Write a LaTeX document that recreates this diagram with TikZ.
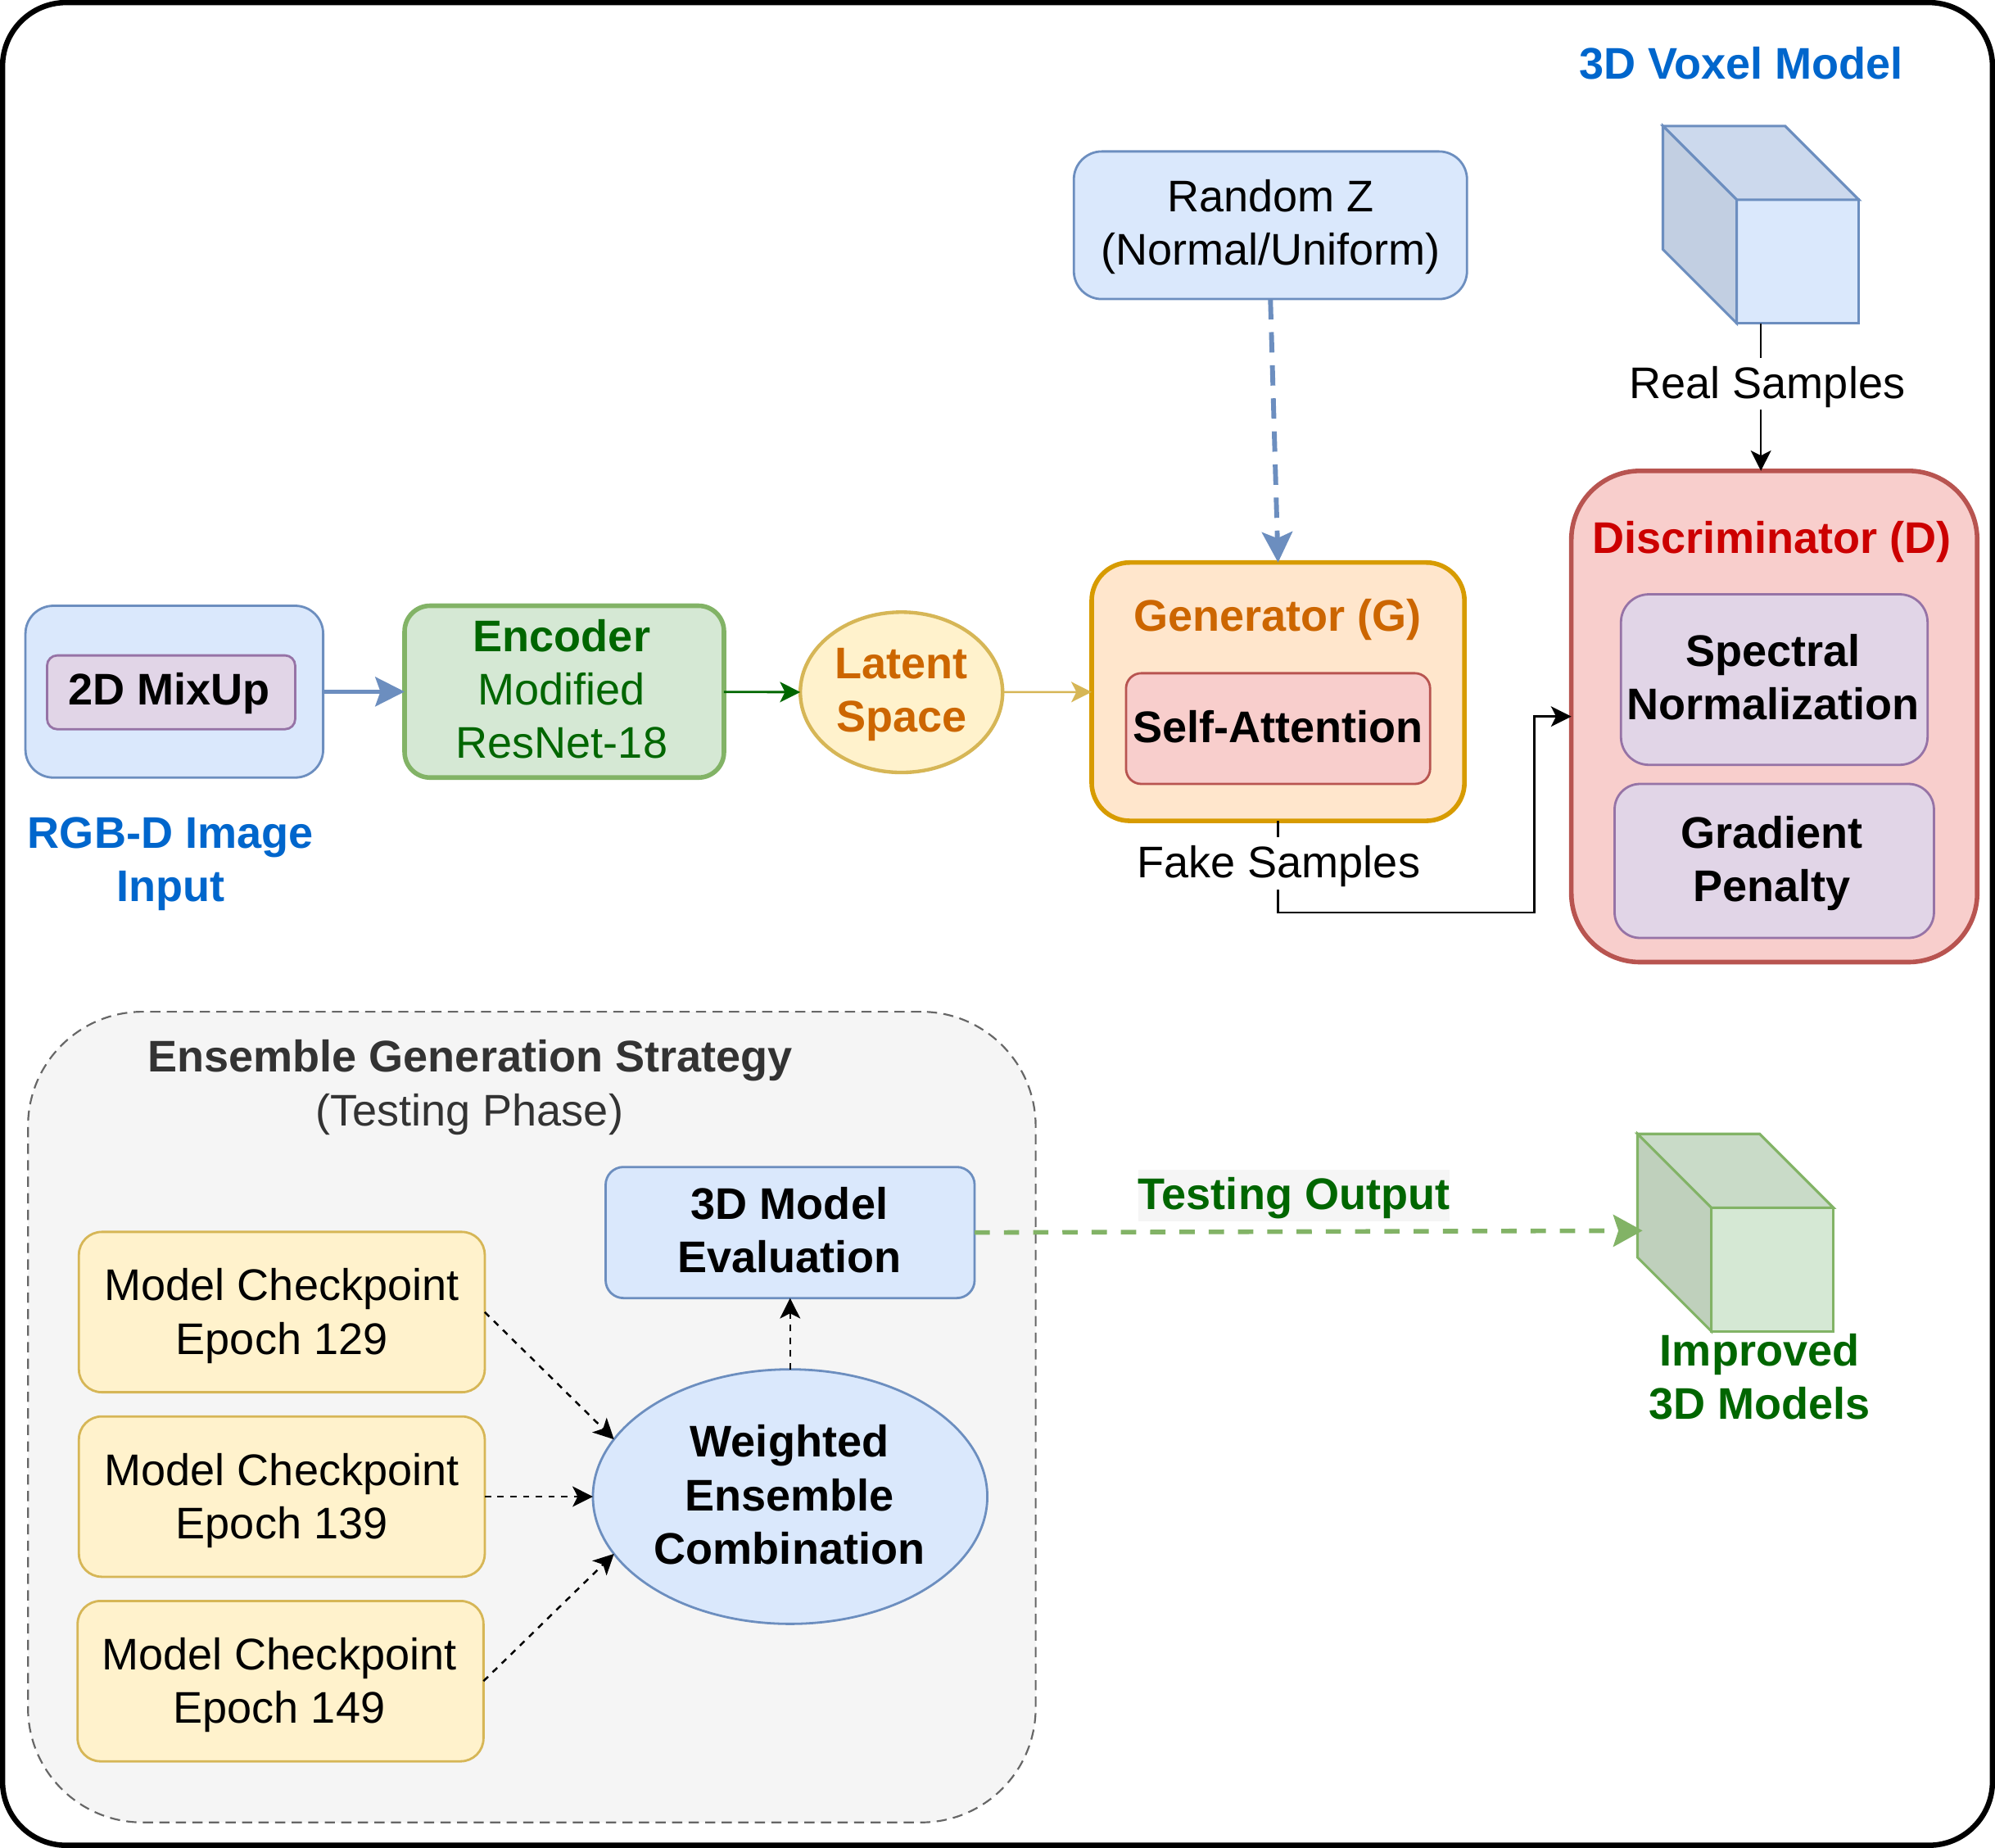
\documentclass[tikz,border=0pt]{standalone}
\usepackage{fontspec}
\setmainfont{Liberation Sans}
\usetikzlibrary{shapes.geometric,arrows.meta}
\definecolor{blueF}{HTML}{DAE8FC}\definecolor{blueS}{HTML}{6C8EBF}
\definecolor{greenF}{HTML}{D5E8D4}\definecolor{greenS}{HTML}{82B366}
\definecolor{yellF}{HTML}{FFF2CC}\definecolor{yellS}{HTML}{D6B656}
\definecolor{orF}{HTML}{FFE6CC}\definecolor{orS}{HTML}{D79B00}
\definecolor{redF}{HTML}{F8CECC}\definecolor{redS}{HTML}{B85450}
\definecolor{purF}{HTML}{E1D5E7}\definecolor{purS}{HTML}{9673A6}
\definecolor{greyF}{HTML}{F5F5F5}\definecolor{greyS}{HTML}{666666}
\definecolor{txtblue}{HTML}{0066CC}\definecolor{txtgreen}{HTML}{006600}
\definecolor{txtor}{HTML}{CC6600}\definecolor{txtred}{HTML}{CC0000}
\definecolor{txtgrey}{HTML}{333333}
\definecolor{cubeTopB}{HTML}{CCD9ED}\definecolor{cubeLeftB}{HTML}{C2CFE2}
\definecolor{cubeTopG}{HTML}{C9DBC8}\definecolor{cubeLeftG}{HTML}{BFD0BC}
\tikzset{
  every node/.style={font=\fontsize{17.4}{21}\selectfont, align=center, inner sep=0pt, outer sep=0pt},
  rbox/.style={rectangle, draw, line width=.9pt},
  blueBox/.style={rbox, fill=blueF, draw=blueS},
  purpleBox/.style={rbox, fill=purF, draw=purS},
  yellowBox/.style={rbox, fill=yellF, draw=yellS, rounded corners=9pt},
  label/.style={font=\fontsize{17.4}{21}\selectfont},
  boldlabel/.style={font=\fontsize{17.4}{21}\selectfont\bfseries},
  edgelabel/.style={label, fill=white, text height=16pt, text depth=4.5pt},
  conn/.style={line width=.8pt, -{Stealth[length=8pt,width=8pt,inset=2pt]}},
  dashconn/.style={conn, dash pattern=on 2.5pt off 2.5pt},
  cubeline/.style={line width=1pt, line join=miter},
}
\begin{document}
\begin{tikzpicture}[x=.5pt,y=-.5pt]
\useasboundingbox (0,0) rectangle (1568,1452);
\node[rectangle, draw=black, fill=white, line width=2.1pt, rounded corners=25pt, minimum width=782pt, minimum height=724pt] (outer) at (784,726) {};

% top row
\node[blueBox, rounded corners=11pt, minimum width=117pt, minimum height=67.5pt] (input) at (137,543.5) {};
\node[purpleBox, rounded corners=4pt, minimum width=97.5pt, minimum height=29pt] (mixup) at (134.5,544) {};
\node[boldlabel] (mixupT) at (133,545) {2D MixUp};
\node[boldlabel, text=txtblue] (rgbd) at (134,679) {RGB-D Image\\Input};
\node[rbox, fill=greenF, draw=greenS, line width=1.8pt, rounded corners=10pt, minimum width=125.5pt, minimum height=67.5pt] (enc) at (443.5,543.5) {};
\node[label, text=txtgreen] (encT) at (441.5,541.5) {\textbf{Encoder}\\Modified\\ResNet-18};
\node[ellipse, draw=yellS, fill=yellF, line width=1.4pt, minimum width=79.5pt, minimum height=63pt] (latent) at (708.5,544) {};
\node[boldlabel, text=txtor] (latentT) at (708.5,546) {Latent\\Space};
\node[rbox, fill=orF, draw=orS, line width=1.8pt, rounded corners=15pt, minimum width=146.5pt, minimum height=101.5pt] (gen) at (1004.5,543.5) {};
\node[boldlabel, text=txtor] (gentitle) at (1004,487) {Generator (G)};
\node[rbox, fill=redF, draw=redS, rounded corners=6pt, minimum width=119.5pt, minimum height=43.5pt] (selfatt) at (1004.5,572.5) {};
\node[boldlabel] (selfattT) at (1004.5,571) {Self-Attention};
\node[blueBox, rounded corners=11pt, minimum width=154.5pt, minimum height=58pt] (randz) at (998.5,177) {};
\node[label] (randzT) at (998.5,178.5) {Random Z\\(Normal/Uniform)};
\node[boldlabel, text=txtblue] (voxeltitle) at (1368.5,50) {3D Voxel Model};

% voxel cube
\node[rectangle, draw=blueS, fill=blueF, cubeline, minimum width=48pt, minimum height=48.5pt] (cubeA) at (1413,205.5) {};
\filldraw[cubeline, draw=blueS, fill=cubeTopB] (1307,99) -- (1403,99) -- (1461,157) -- (1365,157) -- cycle;
\filldraw[cubeline, draw=blueS, fill=cubeLeftB] (1307,99) -- (1365,157) -- (1365,254) -- (1307,196) -- cycle;

% discriminator
\node[rbox, fill=redF, draw=redS, line width=1.8pt, rounded corners=27pt, minimum width=159.5pt, minimum height=193pt] (disc) at (1394.5,563) {};
\node[boldlabel, text=txtred] (disctitle) at (1392.5,426) {Discriminator (D)};
\node[purpleBox, rounded corners=11pt, minimum width=120.5pt, minimum height=67pt] (spec) at (1394.5,534) {};
\node[boldlabel] (specT) at (1393.5,532) {Spectral\\Normalization};
\node[purpleBox, rounded corners=10pt, minimum width=125.5pt, minimum height=60.5pt] (grad) at (1394.5,676.5) {};
\node[boldlabel] (gradT) at (1392.5,678.5) {Gradient\\Penalty};

% ensemble group
\node[rectangle, draw=greyS, fill=greyF, line width=.7pt, dash pattern=on 4pt off 2.5pt, rounded corners=45pt, minimum width=396pt, minimum height=318.5pt] (group) at (418,1113.5) {};
\node[boldlabel, text=txtgrey] (grouptitle) at (369.5,833) {Ensemble Generation Strategy};
\node[label, text=txtgrey] (groupsub) at (369,876) {(Testing Phase)};
\node[blueBox, rounded corners=7pt, minimum width=145pt, minimum height=51.5pt] (eval) at (621,968.5) {};
\node[boldlabel] (evalT) at (620.5,966.5) {3D Model\\Evaluation};
\node[yellowBox, minimum width=159.5pt, minimum height=63pt] (ck1) at (221.5,1031) {};
\node[label] (ck1T) at (221.5,1034) {Model Checkpoint\\Epoch 129};
\node[yellowBox, minimum width=159.5pt, minimum height=63pt] (ck2) at (221.5,1176) {};
\node[label] (ck2T) at (221.5,1179) {Model Checkpoint\\Epoch 139};
\node[yellowBox, minimum width=159.5pt, minimum height=63pt] (ck3) at (220.5,1321) {};
\node[label] (ck3T) at (219.5,1324) {Model Checkpoint\\Epoch 149};
\node[ellipse, draw=blueS, fill=blueF, line width=.9pt, minimum width=155pt, minimum height=100pt] (ens) at (621,1176) {};
\node[boldlabel] (ensT) at (620.5,1174.5) {Weighted\\Ensemble\\Combination};

% improved cube
\node[rectangle, draw=greenS, fill=greenF, cubeline, minimum width=48pt, minimum height=48.5pt] (cubeB) at (1393,997.5) {};
\filldraw[cubeline, draw=greenS, fill=cubeTopG] (1287,891) -- (1383,891) -- (1441,949) -- (1345,949) -- cycle;
\filldraw[cubeline, draw=greenS, fill=cubeLeftG] (1287,891) -- (1345,949) -- (1345,1046) -- (1287,988) -- cycle;
\node[boldlabel, text=txtgreen] (improved) at (1383,1082) {Improved\\3D Models};

% connectors
\coordinate (cubeAout) at (1384,254);
\coordinate (discin) at (1384,370);
\coordinate (cubeBin) at (1291,967);
\coordinate (bendA) at (1004.5,717);
\coordinate (bendB) at (1206,717);
\coordinate (bendC) at (1206,563);
\draw[line width=1.7pt, draw=blueS, -{Stealth[length=11.5pt,width=11.5pt,inset=2pt]}] (input) -- (enc);
\draw[conn, draw=txtgreen, line width=.9pt] (enc) -- (latent);
\draw[conn, draw=yellS] (latent) -- (gen);
\draw[line width=1.9pt, draw=blueS, dash pattern=on 8pt off 5pt, -{Stealth[length=12pt,width=12pt,inset=2.5pt]}] (randz.south) -- (gen.north);
\draw[conn] (cubeAout) -- (discin);
\node[edgelabel] (real) at (1389,301.5) {Real Samples};
\draw[conn] (gen.south) -- (bendA) -- (bendB) -- (bendC) -- (disc.west);
\node[edgelabel] (fake) at (1005,678.5) {Fake Samples};
\draw[line width=1.8pt, draw=greenS, dash pattern=on 6pt off 5.5pt, -{Stealth[length=11.5pt,width=12.5pt,inset=2pt]}] (eval.east) -- (cubeBin);
\node[boldlabel, text=txtgreen, fill=greyF, text height=15.65pt, text depth=4.85pt, minimum width=122.5pt] (testing) at (1017,939.5) {Testing Output};
\draw[dashconn] (ck1.east) -- (ens.162);
\draw[dashconn] (ck2.east) -- (ens.west);
\draw[dashconn] (ck3.east) -- (ens.198);
\draw[dashconn] (ens.north) -- (eval.south);
\end{tikzpicture}
\end{document}
